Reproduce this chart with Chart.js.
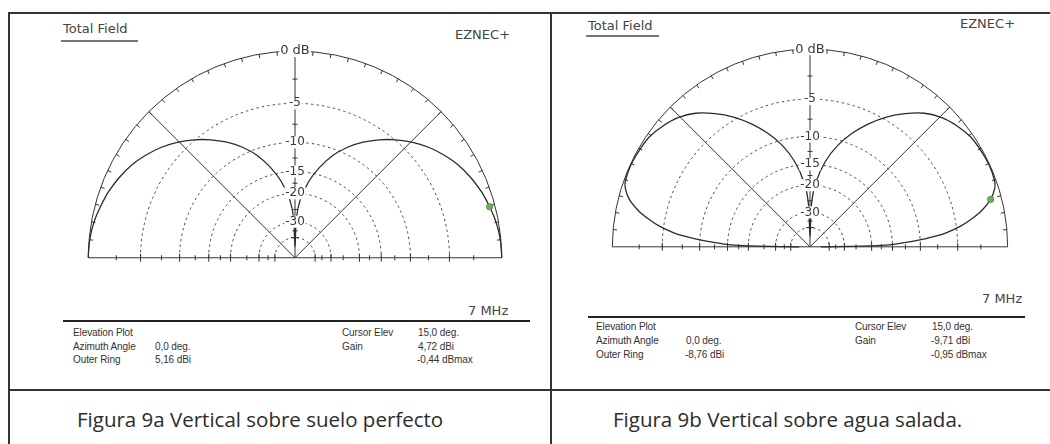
<!DOCTYPE html>
<html>
<head>
<meta charset="utf-8">
<script src="https://cdn.jsdelivr.net/npm/chart.js@4.4.0/dist/chart.umd.min.js"></script>
<style>
  body { margin: 0; width: 1050px; height: 444px; background: #fff; position: relative; overflow: hidden;
         font-family: "Liberation Sans", Arial, sans-serif; color: #333; }
  .t { position: absolute; white-space: nowrap; }
  .hd { font-family: "DejaVu Sans", sans-serif; font-size: 13px; line-height: 14px; color: #444; }
  .info { font-size: 10px; line-height: 10px; color: #333; letter-spacing: -0.1px; }
  .cap { font-family: "Open Sans", "Noto Sans", sans-serif; font-size: 20.5px; line-height: 24px; color: #2c2c2c; }
  .ln { position: absolute; background: #333; }
  canvas { position: absolute; }
</style>
</head>
<body>
<!-- table borders -->
<div class="ln" style="left:8px;top:12px;width:1042px;height:2px"></div>
<div class="ln" style="left:8px;top:12px;width:2px;height:432px"></div>
<div class="ln" style="left:550px;top:12px;width:2px;height:432px"></div>
<div class="ln" style="left:8px;top:389px;width:1042px;height:2px"></div>

<!-- panel a -->
<div class="t hd" style="left:63px;top:22px">Total Field</div>
<div class="ln" style="left:61px;top:40px;width:77px;height:2px;background:#777"></div>
<div class="t hd" style="left:455px;top:28px">EZNEC+</div>
<div class="t hd" style="left:468px;top:304px">7 MHz</div>
<div class="ln" style="left:63px;top:320px;width:467px;height:2px;background:#222"></div>
<div class="t info" style="left:73px;top:328px">Elevation Plot</div>
<div class="t info" style="left:73px;top:342px">Azimuth Angle</div>
<div class="t info" style="left:73px;top:355px">Outer Ring</div>
<div class="t info" style="left:155px;top:342px">0,0 deg.</div>
<div class="t info" style="left:155px;top:355px">5,16 dBi</div>
<div class="t info" style="left:342px;top:328px">Cursor Elev</div>
<div class="t info" style="left:342px;top:342px">Gain</div>
<div class="t info" style="left:418px;top:328px">15,0 deg.</div>
<div class="t info" style="left:418px;top:342px">4,72 dBi</div>
<div class="t info" style="left:417px;top:355px">-0,44 dBmax</div>
<div class="t cap" style="left:77px;top:407px">Figura 9a Vertical sobre suelo perfecto</div>

<!-- panel b -->
<div class="t hd" style="left:588px;top:19px">Total Field</div>
<div class="ln" style="left:586px;top:35px;width:73px;height:2px;background:#777"></div>
<div class="t hd" style="left:960px;top:17px">EZNEC+</div>
<div class="t hd" style="left:982px;top:292px">7 MHz</div>
<div class="ln" style="left:588px;top:316px;width:437px;height:2px;background:#222"></div>
<div class="t info" style="left:596px;top:322px">Elevation Plot</div>
<div class="t info" style="left:596px;top:336px">Azimuth Angle</div>
<div class="t info" style="left:596px;top:350px">Outer Ring</div>
<div class="t info" style="left:686px;top:336px">0,0 deg.</div>
<div class="t info" style="left:685px;top:350px">-8,76 dBi</div>
<div class="t info" style="left:855px;top:322px">Cursor Elev</div>
<div class="t info" style="left:855px;top:336px">Gain</div>
<div class="t info" style="left:932px;top:322px">15,0 deg.</div>
<div class="t info" style="left:931px;top:336px">-9,71 dBi</div>
<div class="t info" style="left:931px;top:350px">-0,95 dBmax</div>
<div class="t cap" style="left:613px;top:407px">Figura 9b Vertical sobre agua salada.</div>

<canvas id="plotA" width="470" height="238" style="left:60px;top:38px"></canvas>
<canvas id="plotB" width="446" height="232" style="left:587px;top:34px"></canvas>

<script>
// Elevation angles (deg) and gain relative to max (dB)
const elevAngles = [0, 1, 2, 3, 4, 5, 6, 8, 10, 12, 15, 18, 20, 25, 30, 35, 40, 45, 50, 55, 60, 65, 70, 75, 80, 85, 88, 90];
const gainPerfectGround = [0, 0, -0.01, -0.02, -0.03, -0.05, -0.07, -0.12, -0.2, -0.28, -0.44, -0.6, -0.72, -1.1, -1.55, -2.15, -2.85, -3.7, -4.7, -5.85, -7.15, -8.7, -10.6, -13.2, -16.5, -21.5, -28, -50];
const gainSaltWater = [-50, -18.5, -14, -11.5, -9.3, -7.6, -6.3, -4.5, -3.2, -2.1, -0.95, -0.3, -0.1, 0, -0.05, -0.15, -0.5, -1.0, -1.8, -3.0, -4.4, -6.1, -8.1, -10.5, -13.8, -19, -26, -50];

// ring grid (dB) and labels on the vertical axis
const ringDb = [-5, -10, -15, -20, -30, -40];
const ringLabels = ['-5', '-10', '-15', '-20', '-30'];
const minorTickDb = [-2.5, -7.5, -12.5, -17.5, -25, -35];

// cursor
const cursorElev = 15;
const cursorGainA = -0.44;
const cursorGainB = -0.95;

// ARRL log scale used by EZNEC
const toRadius = db => Math.pow(0.89, -db / 2);

function polar(angle, db) {
  const r = toRadius(db);
  const t = angle * Math.PI / 180;
  return { x: r * Math.cos(t), y: r * Math.sin(t) };
}

function patternPoints(gains) {
  const pts = elevAngles.map((a, i) => polar(a, gains[i]));
  for (let i = elevAngles.length - 2; i >= 0; i--) {
    pts.push(polar(180 - elevAngles[i], gains[i]));
  }
  return pts;
}

// grid, ticks and labels drawn from the chart scales
const eznecGrid = {
  id: 'eznecGrid',
  beforeDatasetsDraw(chart) {
    const { ctx, scales: { x, y } } = chart;
    const cx = x.getPixelForValue(0), cy = y.getPixelForValue(0);
    const rad = db => x.getPixelForValue(toRadius(db)) - cx;
    const R = rad(0);
    ctx.save();
    ctx.strokeStyle = '#4a4a4a';
    ctx.lineWidth = 1;
    ctx.setLineDash([2.5, 3]);
    ringDb.forEach(db => {
      ctx.beginPath();
      ctx.arc(cx, cy, rad(db), Math.PI, 2 * Math.PI);
      ctx.stroke();
    });
    ctx.setLineDash([]);
    ctx.strokeStyle = '#333';
    ctx.beginPath();
    ctx.arc(cx, cy, R, Math.PI, 2 * Math.PI);
    // outer ring ticks every 5 deg
    for (let a = 5; a < 180; a += 5) {
      const t = a * Math.PI / 180;
      ctx.moveTo(cx + R * Math.cos(t), cy - R * Math.sin(t));
      ctx.lineTo(cx + (R - 4) * Math.cos(t), cy - (R - 4) * Math.sin(t));
    }
    // baseline
    ctx.moveTo(cx - R, cy);
    ctx.lineTo(cx + R, cy);
    // spokes
    [45, 135].forEach(a => {
      const t = a * Math.PI / 180;
      ctx.moveTo(cx, cy);
      ctx.lineTo(cx + R * Math.cos(t), cy - R * Math.sin(t));
    });
    ctx.moveTo(cx, cy);
    ctx.lineTo(cx, cy - R);
    // ticks on baseline and vertical axis
    ringDb.concat(minorTickDb).forEach(db => {
      const r = rad(db);
      const h = ringDb.includes(db) ? 4 : 2.5;
      [-1, 1].forEach(s => {
        ctx.moveTo(cx + s * r, cy - h);
        ctx.lineTo(cx + s * r, cy + h);
      });
      ctx.moveTo(cx - h, cy - r);
      ctx.lineTo(cx + h, cy - r);
    });
    ctx.stroke();
    ctx.restore();
  },
  afterDatasetsDraw(chart) {
    const { ctx, scales: { x, y } } = chart;
    const cx = x.getPixelForValue(0), cy = y.getPixelForValue(0);
    const rad = db => x.getPixelForValue(toRadius(db)) - cx;
    ctx.save();
    ctx.textAlign = 'center';
    ctx.textBaseline = 'middle';
    const label = (txt, py) => {
      const w = ctx.measureText(txt).width;
      ctx.fillStyle = '#fff';
      ctx.fillRect(cx - w / 2 - 1, py - 6, w + 2, 12);
      ctx.fillStyle = '#3a3a3a';
      ctx.fillText(txt, cx, py);
    };
    ctx.font = '13px "DejaVu Sans", sans-serif';
    label('0 dB', cy - rad(0));
    ctx.font = '12px "DejaVu Sans", sans-serif';
    ringLabels.forEach((txt, i) => label(txt, cy - rad(ringDb[i])));
    ctx.restore();
  }
};

function makePlot(id, cx, cy, R, gains, cursorGain) {
  const canvas = document.getElementById(id);
  const left = parseFloat(canvas.style.left), top = parseFloat(canvas.style.top);
  const w = canvas.width, h = canvas.height;
  new Chart(canvas, {
    type: 'scatter',
    data: {
      datasets: [
        {
          data: [polar(cursorElev, cursorGain)],
          pointRadius: 3.2,
          backgroundColor: '#6fae5f',
          borderColor: '#4f8e45',
          borderWidth: 0.8
        },
        {
          data: patternPoints(gains),
          showLine: true,
          borderColor: '#2b2b2b',
          borderWidth: 1.3,
          pointRadius: 0,
          tension: 0.3
        }
      ]
    },
    options: {
      responsive: false,
      animation: false,
      events: [],
      layout: { padding: 0 },
      plugins: { legend: { display: false }, tooltip: { enabled: false } },
      scales: {
        x: { type: 'linear', display: false, min: (left - cx) / R, max: (left + w - cx) / R },
        y: { type: 'linear', display: false, min: (cy - top - h) / R, max: (cy - top) / R }
      }
    },
    plugins: [eznecGrid]
  });
}

document.addEventListener('DOMContentLoaded', () => {
  makePlot('plotA', 295, 262, 211, gainPerfectGround, cursorGainA);
  makePlot('plotB', 810, 251, 202, gainSaltWater, cursorGainB);
});
</script>
</body>
</html>
